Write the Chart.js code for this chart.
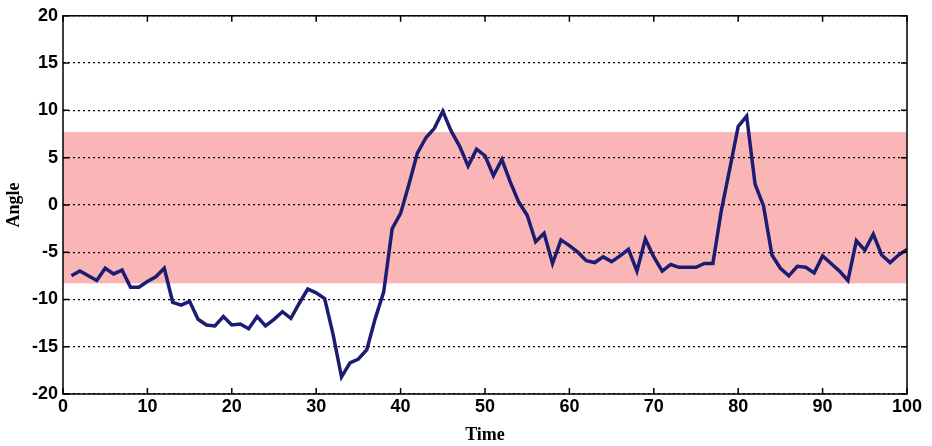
<!DOCTYPE html>
<html>
<head>
<meta charset="utf-8">
<script src="https://cdn.jsdelivr.net/npm/chart.js@4/dist/chart.umd.min.js"></script>
<style>
  html, body { margin: 0; padding: 0; background: #fff; }
  #wrap { width: 932px; height: 446px; }
</style>
</head>
<body>
<div id="wrap"><canvas id="angle-chart" width="932" height="446"></canvas></div>
<script>
// Sample index (Time) and measured angle
const times = [
  1, 2, 3, 4, 5, 6, 7, 8, 9, 10, 11, 12, 13, 14, 15, 16, 17, 18, 19, 20,
  21, 22, 23, 24, 25, 26, 27, 28, 29, 30, 31, 32, 33, 34, 35, 36, 37, 38, 39, 40,
  41, 42, 43, 44, 45, 46, 47, 48, 49, 50, 51, 52, 53, 54, 55, 56, 57, 58, 59, 60,
  61, 62, 63, 64, 65, 66, 67, 68, 69, 70, 71, 72, 73, 74, 75, 76, 77, 78, 79, 80,
  81, 82, 83, 84, 85, 86, 87, 88, 89, 90, 91, 92, 93, 94, 95, 96, 97, 98, 99, 100
];
const angles = [
  -7.5, -7.0, -7.5, -8.0, -6.7, -7.3, -6.9, -8.7, -8.7, -8.1,
  -7.6, -6.7, -10.3, -10.6, -10.2, -12.1, -12.7, -12.8, -11.8, -12.7,
  -12.6, -13.1, -11.8, -12.8, -12.1, -11.3, -12.0, -10.4, -8.9, -9.3,
  -9.9, -13.7, -18.2, -16.7, -16.3, -15.3, -12.0, -9.2, -2.5, -0.9,
  2.2, 5.5, 7.1, 8.1, 9.9, 7.8, 6.2, 4.1, 5.9, 5.2,
  3.1, 4.8, 2.4, 0.3, -1.1, -3.9, -3.0, -6.2, -3.7, -4.3,
  -5.0, -5.9, -6.1, -5.5, -6.0, -5.4, -4.7, -7.0, -3.6, -5.5,
  -7.0, -6.3, -6.6, -6.6, -6.6, -6.2, -6.2, -0.6, 3.8, 8.3,
  9.4, 2.2, -0.1, -5.3, -6.7, -7.5, -6.5, -6.6, -7.2, -5.4,
  -6.2, -7.0, -8.0, -3.8, -4.8, -3.1, -5.3, -6.1, -5.3, -4.7
];

// Axis ticks
const xTicks = [0, 10, 20, 30, 40, 50, 60, 70, 80, 90, 100];
const yTicks = [-20, -15, -10, -5, 0, 5, 10, 15, 20];

// Shaded tolerance band
const bandLow = -8.3;
const bandHigh = 7.7;

const tickFont = { family: '"Liberation Sans", Arial, sans-serif', size: 18, weight: 'bold' };
const titleFont = { family: '"Liberation Serif", "Times New Roman", serif', size: 18, weight: 'bold' };

// Pink band behind the grid
const bandPlugin = {
  id: 'band',
  beforeDraw(chart) {
    const { ctx, chartArea, scales } = chart;
    const top = scales.y.getPixelForValue(bandHigh);
    const bottom = scales.y.getPixelForValue(bandLow);
    ctx.save();
    ctx.fillStyle = 'rgb(250, 182, 182)';
    ctx.fillRect(chartArea.left, top, chartArea.right - chartArea.left, bottom - top);
    ctx.restore();
  }
};

// Matlab-style box with inward ticks
const framePlugin = {
  id: 'frame',
  afterDatasetsDraw(chart) {
    const { ctx, chartArea, scales } = chart;
    const len = 6;
    ctx.save();
    ctx.strokeStyle = '#000';
    ctx.lineWidth = 1.5;
    ctx.strokeRect(chartArea.left, chartArea.top, chartArea.right - chartArea.left, chartArea.bottom - chartArea.top);
    ctx.beginPath();
    xTicks.forEach(v => {
      const x = scales.x.getPixelForValue(v);
      ctx.moveTo(x, chartArea.bottom); ctx.lineTo(x, chartArea.bottom - len);
      ctx.moveTo(x, chartArea.top); ctx.lineTo(x, chartArea.top + len);
    });
    yTicks.forEach(v => {
      const y = scales.y.getPixelForValue(v);
      ctx.moveTo(chartArea.left, y); ctx.lineTo(chartArea.left + len, y);
      ctx.moveTo(chartArea.right, y); ctx.lineTo(chartArea.right - len, y);
    });
    ctx.stroke();
    ctx.restore();
  }
};

new Chart(document.getElementById('angle-chart'), {
  type: 'line',
  data: {
    labels: times,
    datasets: [{
      label: 'Angle',
      data: times.map((t, i) => ({ x: t, y: angles[i] })),
      borderColor: '#1c1c72',
      borderWidth: 3.5,
      pointRadius: 0,
      tension: 0,
      fill: false,
    }]
  },
  options: {
    responsive: false,
    animation: false,
    devicePixelRatio: 1,
    layout: { padding: { top: 13, right: 25, left: 0, bottom: 0 } },
    plugins: {
      legend: { display: false },
      tooltip: { enabled: false },
    },
    scales: {
      x: {
        type: 'linear',
        min: 0,
        max: 100,
        afterBuildTicks: scale => { scale.ticks = xTicks.map(v => ({ value: v })); },
        afterFit: scale => { scale.height = 52; },
        grid: { display: false, drawTicks: false },
        border: { display: false },
        ticks: { color: '#000', font: tickFont, padding: 2, maxRotation: 0 },
        title: { display: true, text: 'Time', color: '#000', font: titleFont, padding: { top: 0, bottom: 0 } },
      },
      y: {
        min: -20,
        max: 20,
        afterBuildTicks: scale => { scale.ticks = yTicks.map(v => ({ value: v })); },
        afterFit: scale => { scale.width = 63; },
        grid: { color: '#000', lineWidth: 1.2, drawTicks: false },
        border: { display: false, dash: [2, 3] },
        ticks: { color: '#000', font: tickFont, padding: 5 },
        title: { display: true, text: 'Angle', color: '#000', font: titleFont, padding: { top: 4, bottom: 0 } },
      }
    }
  },
  plugins: [bandPlugin, framePlugin]
});
</script>
</body>
</html>
